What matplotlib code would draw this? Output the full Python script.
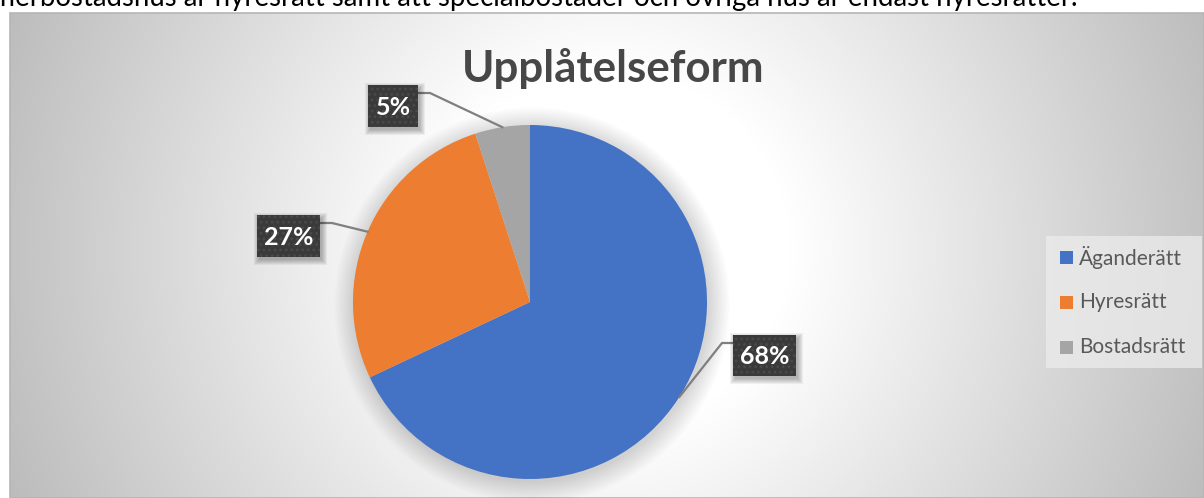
import numpy as np
import matplotlib
matplotlib.use('Agg')
import matplotlib.pyplot as plt
from matplotlib.patches import Rectangle, Circle
from matplotlib.lines import Line2D

# ---------------- data ----------------
categories = ['Äganderätt', 'Hyresrätt', 'Bostadsrätt']
shares = [68, 27, 5]
colors = ['#4472C4', '#ED7D31', '#A5A5A5']
title = 'Upplåtelseform'
caption = 'flerbostadshus är hyresrätt samt att specialbostäder och övriga hus är endast hyresrätter.'

FONT = ['Lato', 'DejaVu Sans']
plt.rcParams['font.family'] = FONT
plt.rcParams['hatch.linewidth'] = 1.2

W, H = 1204, 498
fig = plt.figure(figsize=(W / 100, H / 100), dpi=100)

# ---------------- background (chart area with radial gradient) ----------------
bg = fig.add_axes([0, 0, 1, 1])
bg.set_xlim(0, W); bg.set_ylim(H, 0); bg.axis('off')
x0, y0 = 10, 13
xs = np.arange(x0, W) + 0.5
ys = np.arange(y0, H) + 0.5
X, Y = np.meshgrid(xs, ys)
cx, cy, R = 610, 250, 600
d = np.hypot(X - cx, Y - cy) / R
g = 1 - np.clip((d - 0.3) / 0.8, 0, 1) * (1 - 186 / 255)
img = np.dstack([g, g, g])
bg.imshow(img, extent=(x0, W, H, y0), interpolation='bilinear', aspect='auto', zorder=0)
bg.add_patch(Rectangle((x0, y0), W - x0, H - y0, fill=False, ec='#b5b5b5', lw=1.2, zorder=1))

# ---------------- pie ----------------
pcx, pcy, pr = 530, 302, 177
lim = 1.25
aw = 2 * lim * pr
pax = fig.add_axes([(pcx - lim * pr) / W, (H - pcy - lim * pr) / H, aw / W, aw / H])
pax.patch.set_visible(False)
for k in range(14):
    pax.add_patch(Circle((0.012, -0.018), 1 + k * 0.009, color='k', alpha=0.012, lw=0))
wedges, _ = pax.pie(shares, colors=colors, startangle=90, counterclock=False, radius=1,
                    wedgeprops=dict(linewidth=0))
pax.set_xlim(-lim, lim); pax.set_ylim(-lim, lim)
pax.axis('off')

# ---------------- overlay (pixel coordinates, y down) ----------------
ov = fig.add_axes([0, 0, 1, 1])
ov.set_xlim(0, W); ov.set_ylim(H, 0); ov.axis('off'); ov.patch.set_visible(False)

# label boxes layout: (left, top, width, height, side of leader, elbow x)
layout = [(733, 335, 63, 41, 'left', 722),
          (257, 215, 63, 42, 'right', 332),
          (368, 85, 50, 42, 'right', 430)]

for w, v, (bx, by, bw, bh, side, ex) in zip(wedges, shares, layout):
    th = np.deg2rad((w.theta1 + w.theta2) / 2)
    px = pcx + pr * np.cos(th)
    py = pcy - pr * np.sin(th)
    sy = by + 8
    sx = bx if side == 'left' else bx + bw
    ov.add_line(Line2D([sx, ex, px], [sy, sy, py], color='#7f7f7f', lw=1.6, zorder=3))
    for k in range(6):
        ov.add_patch(Rectangle((bx + 2 - k, by + 3 - k), bw + 2 * k, bh + 2 * k,
                               fc='k', ec='none', alpha=0.05, zorder=4))
    ov.add_patch(Rectangle((bx, by), bw, bh, fc='#3a3a3a', ec='#4a4a4a', lw=0,
                           hatch='...', zorder=5))
    ov.text(bx + bw / 2, by + bh / 2 + 1, f'{v}%', ha='center', va='center', color='white',
            fontsize=18, fontweight='bold', zorder=6)

# title
t = ov.text(613.5, 82, title, ha='center', va='baseline', fontsize=32, fontweight='bold',
            color='#474747', zorder=6)

# legend
ov.add_patch(Rectangle((1046, 236), 156, 132, fc='#ececec', ec='none', alpha=0.75, zorder=4))
for i, (name, c) in enumerate(zip(categories, colors)):
    yy = 257 + 45 * i
    ov.add_patch(Rectangle((1060, yy - 6.5), 13, 13, fc=c, ec='none', zorder=5))
    ov.text(1079, yy, name, ha='left', va='center', fontsize=15, color='#595959', zorder=6)

# cut caption at top (as in the reference, only its lower part is visible)
cap = ov.text(-1, 6, caption, ha='left', va='baseline', fontsize=17, color='black',
              clip_on=False, zorder=6)

renderer = fig.canvas.get_renderer()
def fit(txt, target):
    bb = txt.get_window_extent(renderer)
    txt.set_fontsize(txt.get_fontsize() * target / bb.width)

fit(cap, 1077)
fit(t, 303)

fig.savefig('out.png', dpi=100)
